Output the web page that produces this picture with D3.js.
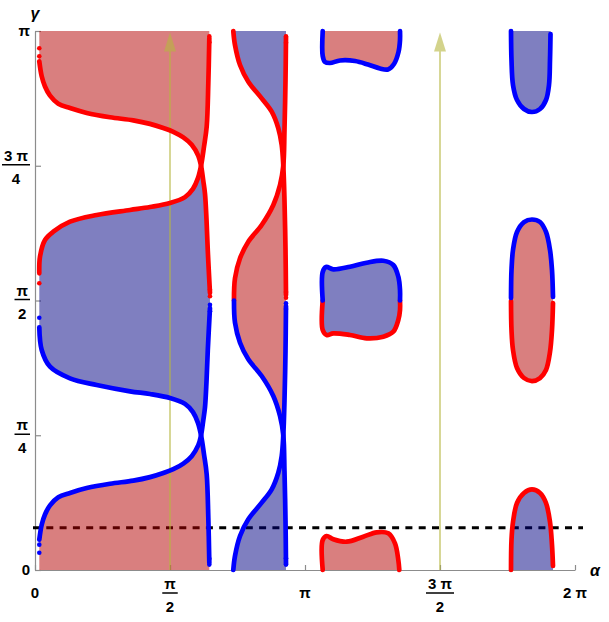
<!DOCTYPE html>
<html><head><meta charset="utf-8">
<script src="https://cdn.jsdelivr.net/npm/d3@7"></script>
<style>
html,body{margin:0;padding:0;background:#fff;}
svg{display:block;}
text{font-family:"Liberation Sans",Arial,sans-serif;}
</style></head><body>
<svg id="chart" width="609" height="622"></svg>
<script>
// All coordinates in units of pi: [alpha/pi, gamma/pi]
// Column 1 (0 < alpha < ~0.65 pi)
const A1 = [[0.0159,0.9436],[0.0248,0.916],[0.037,0.897],[0.0556,0.88],[0.0863,0.865],[0.1296,0.857],[0.1915,0.848],[0.2778,0.84],[0.3641,0.8343],[0.4259,0.8277],[0.4752,0.82],[0.5122,0.813],[0.5493,0.8025],[0.5804,0.7888],[0.6048,0.7684],[0.615,0.75]];
const A2 = [[0.615,0.75],[0.6233,0.722],[0.6296,0.698],[0.6352,0.65],[0.64,0.592],[0.648,0.514]];
const B1 = [[0.6456,0.9864],[0.6419,0.903],[0.6359,0.8225],[0.6259,0.7853],[0.615,0.75]];
const B2 = [[0.615,0.75],[0.6035,0.727],[0.585,0.707],[0.5556,0.6918],[0.5,0.6808],[0.4259,0.6734],[0.3519,0.6679],[0.2285,0.6586],[0.1296,0.6462],[0.0678,0.6276],[0.037,0.6122],[0.0185,0.5813],[0.0159,0.5505]];
const C1 = [[0.6456,0.0136],[0.6419,0.097],[0.6359,0.1775],[0.6259,0.2147],[0.615,0.25]];
const C2 = [[0.615,0.25],[0.6035,0.273],[0.585,0.293],[0.5556,0.3082],[0.5,0.3192],[0.4259,0.3266],[0.3519,0.3315],[0.2285,0.3432],[0.1296,0.3556],[0.0556,0.3772],[0.0248,0.4082],[0.0159,0.4503]];
const D1 = [[0.0159,0.0564],[0.0248,0.084],[0.037,0.103],[0.0556,0.12],[0.0863,0.135],[0.1296,0.143],[0.1915,0.152],[0.2778,0.16],[0.3641,0.1657],[0.4259,0.1723],[0.4752,0.18],[0.5122,0.187],[0.5493,0.1975],[0.5804,0.2112],[0.6048,0.2316],[0.615,0.25]];
const D2 = [[0.615,0.25],[0.6233,0.278],[0.6296,0.302],[0.6352,0.35],[0.64,0.408],[0.648,0.486]];
// Column 2
const E1 = [[0.7344,1.0],[0.7407,0.974],[0.7593,0.9369],[0.79,0.906],[0.8396,0.8751],[0.8767,0.8503],[0.9011,0.8195],[0.9137,0.7885],[0.9196,0.75]];
const E2 = [[0.9196,0.75],[0.924,0.6865],[0.9278,0.5937],[0.9296,0.5102]];
const F1 = [[0.9296,0.9889],[0.9278,0.9091],[0.924,0.8163],[0.9196,0.75]];
const F2 = [[0.9196,0.75],[0.9074,0.7143],[0.8826,0.6772],[0.8396,0.6401],[0.79,0.6091],[0.7593,0.5783],[0.7407,0.5412],[0.737,0.5]];
const G1 = [[0.7344,0.0],[0.7407,0.026],[0.7593,0.0631],[0.79,0.094],[0.8396,0.1249],[0.8767,0.1497],[0.9011,0.1805],[0.9137,0.2115],[0.9196,0.25]];
const G2 = [[0.9196,0.25],[0.924,0.3135],[0.9278,0.4063],[0.9296,0.4898]];
const H1 = [[0.9296,0.0111],[0.9278,0.0909],[0.924,0.1837],[0.9196,0.25]];
const H2 = [[0.9196,0.25],[0.9074,0.2857],[0.8826,0.3228],[0.8396,0.3599],[0.79,0.3909],[0.7593,0.4217],[0.7407,0.4588],[0.737,0.5]];
// Column 3
const J = [[1.0656,1.0],[1.0656,0.9536],[1.0741,0.9425],[1.0926,0.9406],[1.1296,0.9453],[1.1852,0.9443],[1.2333,0.9378],[1.2778,0.9304],[1.3074,0.9286],[1.3296,0.9388],[1.3463,0.961],[1.3519,0.9833],[1.3519,1.0]];
const K = [[1.0656,0.5],[1.0656,0.5529],[1.0778,0.5622],[1.1048,0.5579],[1.1667,0.5627],[1.2285,0.5701],[1.29,0.5738],[1.327,0.5659],[1.3456,0.5442],[1.3519,0.5195],[1.3519,0.5]];
const L = [[1.0656,0.5],[1.0656,0.4453],[1.0804,0.436],[1.1048,0.4391],[1.1667,0.436],[1.2285,0.4299],[1.29,0.4329],[1.327,0.4421],[1.3456,0.4638],[1.3519,0.4824],[1.3519,0.5]];
const M = [[1.0656,0.0],[1.0656,0.0557],[1.0804,0.0631],[1.1048,0.057],[1.1544,0.0525],[1.2159,0.0618],[1.2656,0.0699],[1.3085,0.0681],[1.3333,0.0495],[1.3456,0.0186],[1.3493,0.0]];
// Column 4
const N = [[1.763,1.0],[1.7648,0.9462],[1.7704,0.8998],[1.7852,0.872],[1.8111,0.8553],[1.8407,0.8497],[1.8704,0.8553],[1.8926,0.872],[1.9037,0.8998],[1.9074,0.9462],[1.9093,0.9944]];
const P = [[1.763,0.5046],[1.7648,0.5566],[1.7704,0.5937],[1.7852,0.6271],[1.8111,0.6456],[1.8407,0.6503],[1.8704,0.6456],[1.8926,0.6271],[1.9074,0.5937],[1.9148,0.5566],[1.9185,0.5065]];
const Q = [[1.763,0.4991],[1.7648,0.4453],[1.7704,0.4082],[1.7852,0.3748],[1.8111,0.3562],[1.8407,0.3506],[1.8704,0.3562],[1.8926,0.3711],[1.9074,0.4045],[1.9148,0.4453],[1.9185,0.4954]];
const R = [[1.763,0.0],[1.7648,0.0557],[1.7704,0.0891],[1.7852,0.1243],[1.8111,0.1429],[1.8407,0.1494],[1.8704,0.1429],[1.8926,0.1243],[1.9074,0.0891],[1.9148,0.0464],[1.9185,0.0074]];
// isolated sample points at branch ends
const redDots = [[0.0159,0.968],[0.0159,0.953],[0.0159,0.532],[0.6456,0.99],[0.6456,0.979],[0.648,0.508],[0.648,0.52],[0.9296,0.99],[0.9296,0.978],[0.9296,0.505],[0.9296,0.516]];
const blueDots = [[0.0159,0.032],[0.0159,0.047],[0.0159,0.468],[0.6456,0.01],[0.6456,0.021],[0.648,0.492],[0.648,0.48],[0.9296,0.01],[0.9296,0.022],[0.9296,0.495],[0.9296,0.484]];
const dashLevel = 0.0785;
const arrowAlphas = [0.5, 1.5];
const yTickValues = [0, 0.25, 0.5, 0.75, 1];
const yTickNum = ["0", "π", "π", "3 π", "π"];
const yTickDen = [null, "4", "2", "4", null];
const xTickValues = [0, 0.5, 1, 1.5, 2];
const xTickNum = ["0", "π", "π", "3 π", "2 π"];
const xTickDen = [null, "2", null, "2", null];

const svg = d3.select("#chart");
const x = d3.scaleLinear().domain([0, 2]).range([35, 575]);
const y = d3.scaleLinear().domain([0, 1]).range([570, 31]);
const RED = "#ff0000", BLUE = "#0000ff";
const FILL_RED = "rgb(179,0,0)", FILL_BLUE = "rgb(0,0,129)";
const line = d3.line().x(d => x(d[0])).y(d => y(d[1])).curve(d3.curveCatmullRom.alpha(0.5));
const rev = a => a.slice().reverse();
const last = a => a[a.length - 1];
const cat = (...parts) => { const out = []; parts.forEach(p => p.forEach(pt => { const l = out[out.length - 1]; if (!l || l[0] !== pt[0] || l[1] !== pt[1]) out.push(pt); })); return out; };
const polyPath = segs => segs.map((s, i) => { const p = line(s); return i ? "L" + p.slice(1) : p; }).join("") + "Z";

// axes
svg.append("g").attr("transform", `translate(0,${y(0)})`)
  .call(d3.axisBottom(x).tickValues(xTickValues).tickSize(-5).tickSizeOuter(0).tickFormat(""));
svg.append("g").attr("transform", `translate(${x(0)},0)`)
  .call(d3.axisLeft(y).tickValues(yTickValues).tickSize(-6).tickSizeOuter(0).tickFormat(""));
svg.selectAll(".domain").attr("stroke", "#8c8c8c").attr("stroke-width", 1.2);
svg.selectAll(".tick line").attr("stroke", "#8c8c8c").attr("stroke-width", 1.2);

// dashed reference line (under fills)
svg.append("line").attr("x1", x(0) - 2).attr("x2", x(2) + 8)
  .attr("y1", y(dashLevel)).attr("y2", y(dashLevel))
  .attr("stroke", "#000").attr("stroke-width", 3).attr("stroke-dasharray", "7,6.3");

// fills
const fills = [
  { d: polyPath([[[A1[0][0], 1], [B1[0][0], 1]], B1, rev(A1)]), c: FILL_RED },
  { d: polyPath([B2, rev(C2), D2, rev(A2)]), c: FILL_BLUE },
  { d: polyPath([D1, rev(C1), [[C1[0][0], 0], [D1[0][0], 0]]]), c: FILL_RED },
  { d: polyPath([[[E1[0][0], 1], [F1[0][0], 1]], F1, rev(E1)]), c: FILL_BLUE },
  { d: polyPath([F2, rev(H2), G2, rev(E2)]), c: FILL_RED },
  { d: polyPath([G1, rev(H1), [[H1[0][0], 0], [G1[0][0], 0]]]), c: FILL_BLUE },
  { d: polyPath([J]), c: FILL_RED },
  { d: polyPath([K, rev(L)]), c: FILL_BLUE },
  { d: polyPath([M]), c: FILL_RED },
  { d: polyPath([N, [[last(N)[0], 1], [N[0][0], 1]]]), c: FILL_BLUE },
  { d: polyPath([P, rev(Q)]), c: FILL_RED },
  { d: polyPath([R, [[last(R)[0], 0], [R[0][0], 0]]]), c: FILL_BLUE }
];
svg.append("g").selectAll("path").data(fills).join("path")
  .attr("d", d => d.d).attr("fill", d => d.c).attr("fill-opacity", 0.5).attr("stroke", "none");

// arrows
const ag = svg.append("g").attr("opacity", 0.6);
arrowAlphas.forEach(a => {
  const ax = x(a), tip = y(0.997);
  ag.append("line").attr("x1", ax).attr("x2", ax).attr("y1", y(0)).attr("y2", tip + 10)
    .attr("stroke", "rgb(183,183,63)").attr("stroke-width", 1.8);
  ag.append("path").attr("d", `M${ax},${tip}L${ax - 6},${tip + 19}L${ax + 6},${tip + 19}Z`)
    .attr("fill", "rgb(183,183,63)");
});

// curves
const redCurves = [cat(A1, A2), cat(B1, B2), cat(E1, E2), cat(F1, F2), L, M, Q, R];
const blueCurves = [cat(C1, C2), cat(D1, D2), cat(G1, G2), cat(H1, H2), J, K, N, P];
const cg = svg.append("g").attr("fill", "none").attr("stroke-width", 4.7).attr("stroke-linecap", "round").attr("stroke-linejoin", "round");
cg.selectAll("path.r").data(redCurves).join("path").attr("class", "r").attr("d", line).attr("stroke", RED);
cg.selectAll("path.b").data(blueCurves).join("path").attr("class", "b").attr("d", line).attr("stroke", BLUE);
svg.append("g").selectAll("circle.r").data(redDots).join("circle").attr("class", "r")
  .attr("cx", d => x(d[0])).attr("cy", d => y(d[1])).attr("r", 2.3).attr("fill", RED);
svg.append("g").selectAll("circle.b").data(blueDots).join("circle").attr("class", "b")
  .attr("cx", d => x(d[0])).attr("cy", d => y(d[1])).attr("r", 2.3).attr("fill", BLUE);

// tick labels
const lab = svg.append("g").attr("font-weight", "bold").attr("font-size", 15).attr("fill", "#000");
function fraction(cx, barY, num, den, anchorRight) {
  const g = lab.append("g");
  const t1 = g.append("text").attr("text-anchor", "middle").attr("y", barY - 4).text(num);
  const t2 = g.append("text").attr("text-anchor", "middle").attr("y", barY + 19).text(den);
  const w = Math.max(t1.node().getComputedTextLength(), t2.node().getComputedTextLength()) + 4;
  const c = anchorRight !== undefined ? anchorRight - w / 2 : cx;
  t1.attr("x", c); t2.attr("x", c);
  g.append("line").attr("x1", c - w / 2).attr("x2", c + w / 2).attr("y1", barY).attr("y2", barY)
    .attr("stroke", "#000").attr("stroke-width", 1.5);
}
yTickValues.forEach((v, i) => {
  if (yTickDen[i]) fraction(0, y(v) - 1, yTickNum[i], yTickDen[i], 30);
  else lab.append("text").attr("text-anchor", "end").attr("x", 30).attr("y", y(v) + 5).text(yTickNum[i]);
});
xTickValues.forEach((v, i) => {
  if (xTickDen[i]) fraction(x(v), 593, xTickNum[i], xTickDen[i]);
  else lab.append("text").attr("text-anchor", "middle").attr("x", x(v)).attr("y", 598).text(xTickNum[i]);
});
// axis titles
svg.append("text").attr("x", 35).attr("y", 19).attr("text-anchor", "middle")
  .attr("font-style", "italic").attr("font-weight", "bold").attr("font-size", 16).text("γ");
svg.append("text").attr("x", 595).attr("y", 576).attr("text-anchor", "middle")
  .attr("font-style", "italic").attr("font-weight", "bold").attr("font-size", 16).text("α");
</script>
</body></html>
